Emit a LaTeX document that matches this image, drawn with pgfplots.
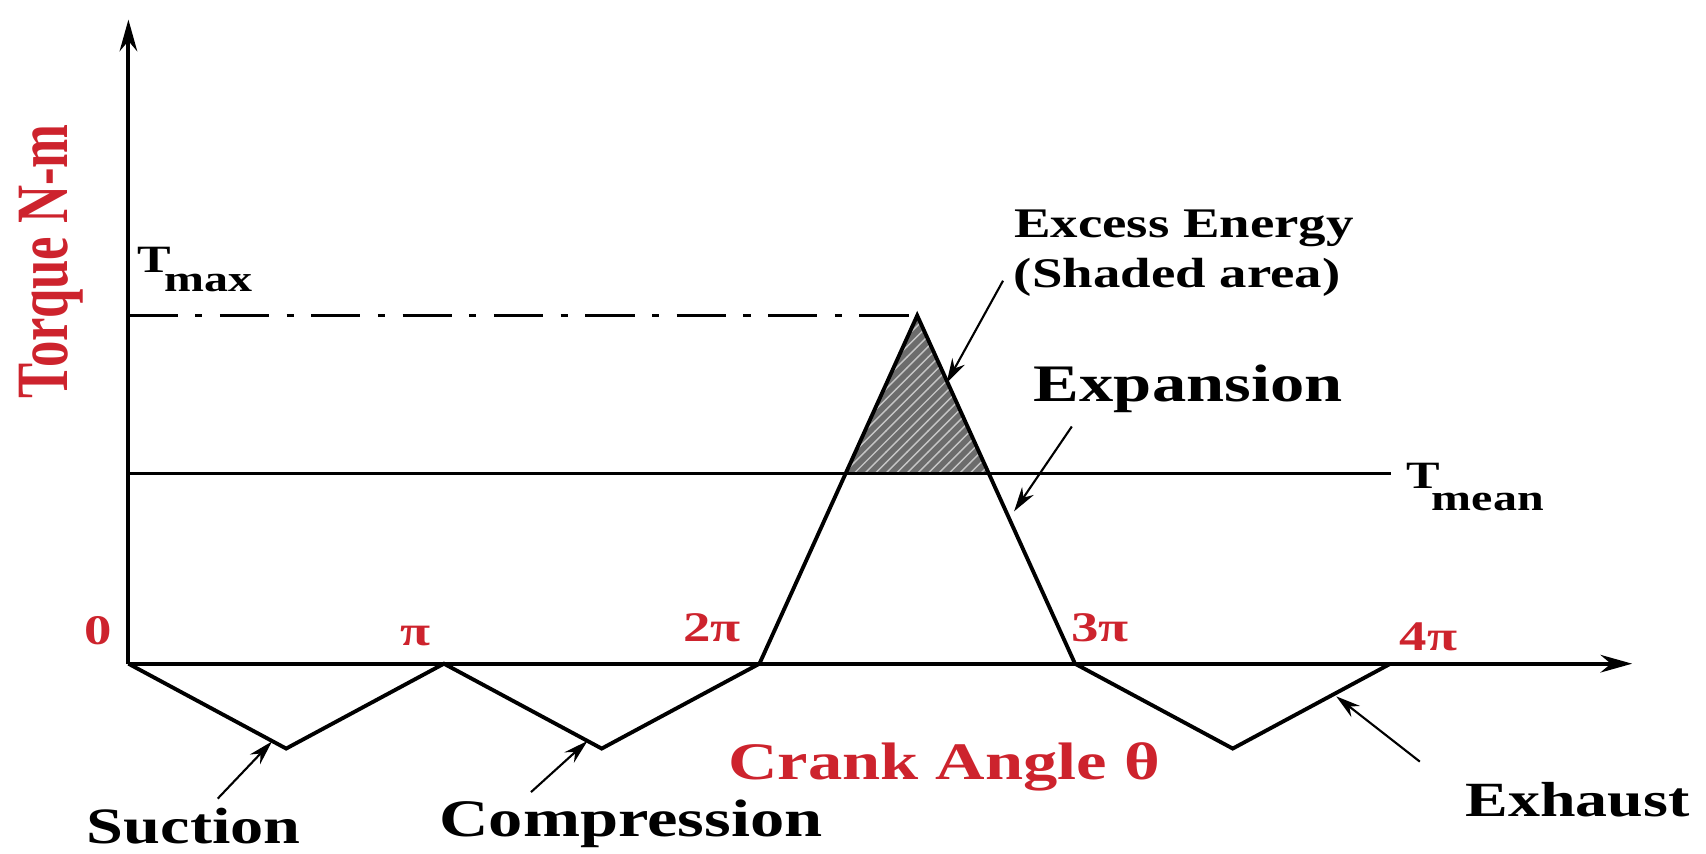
\documentclass[border=0pt]{standalone}
\usepackage{pgfplots}
\pgfplotsset{compat=1.18}
\usepackage{fontspec}
\setmainfont{Liberation Serif}
\usetikzlibrary{patterns,arrows.meta}
\definecolor{lblred}{RGB}{205,35,45}
% the lettering in the reference is stretched sideways
\newcommand{\wide}[1]{\scalebox{1.3}[1]{#1}}

\begin{document}
\begin{tikzpicture}
\begin{axis}[
    name=ax,
    scale only axis,
    width=17.06cm, height=8.53cm,
    xmin=-0.407, xmax=5.0, ymin=-1.74, ymax=6.10,
    axis lines=none, clip=false,
    every node/.style={font=\bfseries, inner sep=0.5pt}
]
% shaded excess-energy triangle
\addplot[draw=none, fill=gray!85!black,
    postaction={pattern=north east lines, pattern color=gray!45}]
    coordinates {(2.2734,1.75)(2.5,3.2)(2.7266,1.75)(2.2734,1.75)};

% T_max and T_mean levels
\addplot[black, line width=0.6pt, dash pattern=on 14pt off 5pt on 2pt off 5pt]
    coordinates {(0,3.2)(2.5,3.2)};
\addplot[black, line width=0.7pt] coordinates {(0,1.75)(4.0,1.75)};

% torque over the four strokes
\addplot[black, line width=1.1pt, line join=miter] coordinates {
    (0,0)(0.5,-0.78)(1,0)(1.5,-0.78)(2,0)(2.5,3.2)(3,0)(3.5,-0.78)(4,0)
};

% axes
\draw[line width=1.1pt, -{Stealth[length=9pt,width=5pt]}] (axis cs:0,0) -- (axis cs:4.766,0);
\draw[line width=1.1pt, -{Stealth[length=9pt,width=5pt]}] (axis cs:0,0) -- (axis cs:0,5.92);

% tick labels
\node[lblred, font=\fontsize{12}{14}\bfseries] at (axis cs:-0.097,0.30) {\wide{0}};
\node[lblred, font=\fontsize{12}{14}\bfseries] at (axis cs:0.91,0.25) {\wide{π}};
\node[lblred, font=\fontsize{12}{14}\bfseries] at (axis cs:1.85,0.33) {\wide{2π}};
\node[lblred, font=\fontsize{12}{14}\bfseries] at (axis cs:3.08,0.33) {\wide{3π}};
\node[lblred, font=\fontsize{12}{14}\bfseries] at (axis cs:4.12,0.25) {\wide{4π}};

% axis titles
\node[lblred, rotate=90, font=\fontsize{15}{18}\bfseries] at (axis cs:-0.245,3.70) {\scalebox{1}[1.4]{Torque N-m}};
\node[lblred, font=\fontsize{15}{18}\bfseries] at (axis cs:2.586,-0.95) {\wide{Crank Angle θ}};

% level labels
\node[anchor=west, font=\fontsize{11}{12}\bfseries] at (axis cs:-0.012,3.71) {\wide{T}};
\node[anchor=west, font=\fontsize{10.5}{12}\bfseries] at (axis cs:0.075,3.50) {\wide{max}};
\node[anchor=west, font=\fontsize{11}{12}\bfseries] at (axis cs:4.01,1.73) {\wide{T}};
\node[anchor=west, font=\fontsize{10.5}{12}\bfseries] at (axis cs:4.092,1.49) {\wide{mean}};

% annotations
\node[font=\fontsize{12}{14}\bfseries] at (axis cs:3.345,4.00) {\wide{Excess Energy}};
\node[font=\fontsize{12}{14}\bfseries] at (axis cs:3.324,3.55) {\wide{(Shaded area)}};
\draw[line width=0.6pt, -{Stealth[length=7pt,width=4pt]}] (axis cs:2.772,3.52) -- (axis cs:2.593,2.58);
\node[font=\fontsize{15}{18}\bfseries] at (axis cs:3.359,2.53) {\wide{Expansion}};
\draw[line width=0.6pt, -{Stealth[length=7pt,width=4pt]}] (axis cs:2.99,2.18) -- (axis cs:2.807,1.40);
\node[font=\fontsize{14.5}{17}\bfseries] at (axis cs:0.207,-1.49) {\wide{Suction}};
\draw[line width=0.6pt, -{Stealth[length=7pt,width=4pt]}] (axis cs:0.283,-1.24) -- (axis cs:0.455,-0.715);
\node[font=\fontsize{15}{18}\bfseries] at (axis cs:1.593,-1.47) {\wide{Compression}};
\draw[line width=0.6pt, -{Stealth[length=7pt,width=4pt]}] (axis cs:1.276,-1.18) -- (axis cs:1.455,-0.71);
\node[font=\fontsize{14}{17}\bfseries] at (axis cs:4.593,-1.25) {\wide{Exhaust}};
\draw[line width=0.6pt, -{Stealth[length=7pt,width=4pt]}] (axis cs:4.093,-0.90) -- (axis cs:3.828,-0.30);
\end{axis}
\pgfresetboundingbox
\path (ax.south west) rectangle (ax.north east);
\end{tikzpicture}
\end{document}
